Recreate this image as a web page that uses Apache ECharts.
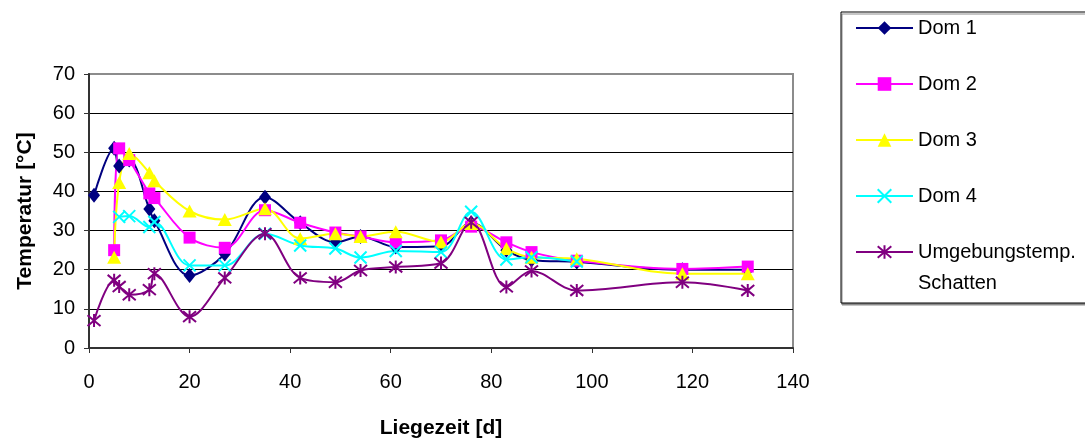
<!DOCTYPE html>
<html>
<head>
<meta charset="utf-8">
<script src="https://cdn.jsdelivr.net/npm/echarts@6/dist/echarts.min.js"></script>
<style>
html,body{margin:0;padding:0;background:#fff;}
#chart{width:1085px;height:439px;}
</style>
</head>
<body>
<div id="chart"></div>
<script>
// Liegezeit in Tagen
const days = [1, 5, 6, 8, 12, 13, 20, 27, 35, 42, 49, 54, 61, 70, 76, 83, 88, 97, 118, 131];
const dom1 = [39, 51, 46.5, 48, 35.5, 32.5, 18.5, 24, 38.5, 32, 27, 28.5, 25.8, 26, 32, 25, 22.5, 22, 20, 20];
const dom2 = [null, 25, 51, 48, 39.5, 38.3, 28.2, 25.6, 35.2, 32, 29.5, 28.5, 27, 27.5, 31, 27, 24.5, 22.3, 20.2, 20.8];
const dom3 = [null, 23.2, 42.3, 49.7, 44.8, 42.7, 35, 32.8, 35.6, 28, 29.2, 28.5, 29.7, 27.1, 31.8, 25.4, 23.2, 22.8, 19, 19];
const dom4 = [null, null, 33.5, 33.7, 30.9, 32.2, 21.1, 21.1, 29.2, 26.2, 25.4, 23.1, 24.8, 24.5, 34.8, 22.6, 23.2, 22.1, null, null];
const umgebung = [7, 17.3, 15.7, 13.6, 14.9, 19, 8, 17.9, 29.2, 17.9, 16.8, 19.8, 20.7, 21.7, 32.1, 15.6, 19.7, 14.7, 16.8, 14.7];
const seriesNames = ['Dom 1', 'Dom 2', 'Dom 3', 'Dom 4', 'Umgebungstemp. Schatten'];
const yTicks = {min: 0, max: 70, interval: 10};
const xTicks = {min: 0, max: 140, interval: 20};

function pairs(vals) {
  const out = [];
  days.forEach((d, i) => { if (vals[i] !== null) out.push([d, vals[i]]); });
  return out;
}

const FONT = 'Liberation Sans, Arial, sans-serif';
const X_PATH = 'path://M0,0L10,10M10,0L0,10';
const STAR_PATH = 'path://M0,0L10,10M10,0L0,10M5,-1L5,11';

function mk(name, vals, color, symbol, size, stroked) {
  return {
    name: name,
    type: 'line',
    data: pairs(vals),
    smooth: 0.35,
    symbol: symbol,
    symbolSize: size,
    showAllSymbol: true,
    lineStyle: {color: color, width: 2},
    itemStyle: stroked ? {color: 'rgba(0,0,0,0)', borderColor: color, borderWidth: 2}
                       : {color: color, borderWidth: 0},
    emphasis: {disabled: true},
    animation: false
  };
}

const chart = echarts.init(document.getElementById('chart'), null, {renderer: 'canvas'});
chart.setOption({
  backgroundColor: '#fff',
  animation: false,
  grid: {left: 89, right: 292, top: 74, bottom: 91, show: true, borderColor: '#8c8c8c', borderWidth: 2,
         backgroundColor: '#fff', outerBoundsMode: 'none', containLabel: false},
  xAxis: {
    type: 'value', min: xTicks.min, max: xTicks.max, interval: xTicks.interval,
    name: 'Liegezeit [d]', nameLocation: 'middle', nameGap: 70,
    nameTextStyle: {fontFamily: FONT, fontSize: 21, fontWeight: 'bold', color: '#000'},
    axisLine: {show: true, lineStyle: {color: '#333', width: 2}},
    axisTick: {show: true, inside: false, length: 5, lineStyle: {color: '#333', width: 1}},
    axisLabel: {fontFamily: FONT, fontSize: 20, color: '#000', margin: 24},
    splitLine: {show: false}
  },
  yAxis: {
    type: 'value', min: yTicks.min, max: yTicks.max, interval: yTicks.interval,
    name: 'Temperatur [°C]', nameLocation: 'middle', nameGap: 53, nameRotate: 90,
    nameTextStyle: {fontFamily: FONT, fontSize: 21, fontWeight: 'bold', color: '#000'},
    axisLine: {show: true, lineStyle: {color: '#333', width: 2}},
    axisTick: {show: true, inside: false, length: 5, lineStyle: {color: '#333', width: 1}},
    axisLabel: {fontFamily: FONT, fontSize: 20, color: '#000', margin: 14},
    splitLine: {show: true, showMaxLine: false, lineStyle: {color: '#000', width: 1}}
  },
  legend: {
    orient: 'vertical', left: 841, top: 12,
    itemWidth: 57, itemHeight: 17, itemGap: 36,
    padding: [6, 70, 41, 14],
    borderColor: '#000', borderWidth: 1, backgroundColor: '#fff',
    shadowColor: '#8c8c8c', shadowOffsetX: 1, shadowOffsetY: 2, shadowBlur: 0,
    textStyle: {fontFamily: FONT, fontSize: 20, color: '#000', lineHeight: 20},
    data: seriesNames,
    formatter: function (n) { return n === 'Umgebungstemp. Schatten' ? 'Umgebungstemp.' : n; },
    selectedMode: false
  },
  graphic: [{
    type: 'text', left: 918, top: 273, z: 100, zlevel: 0,
    style: {text: 'Schatten', font: '20px ' + FONT, fill: '#000'}
  }],
  series: [
    mk(seriesNames[0], dom1, '#000080', 'diamond', [12, 15], false),
    mk(seriesNames[1], dom2, '#ff00ff', 'rect', 12, false),
    mk(seriesNames[2], dom3, '#ffff00', 'triangle', [14, 13], false),
    mk(seriesNames[3], dom4, '#00ffff', X_PATH, 12, true),
    mk(seriesNames[4], umgebung, '#800080', STAR_PATH, 13, true)
  ]
});
</script>
</body>
</html>
